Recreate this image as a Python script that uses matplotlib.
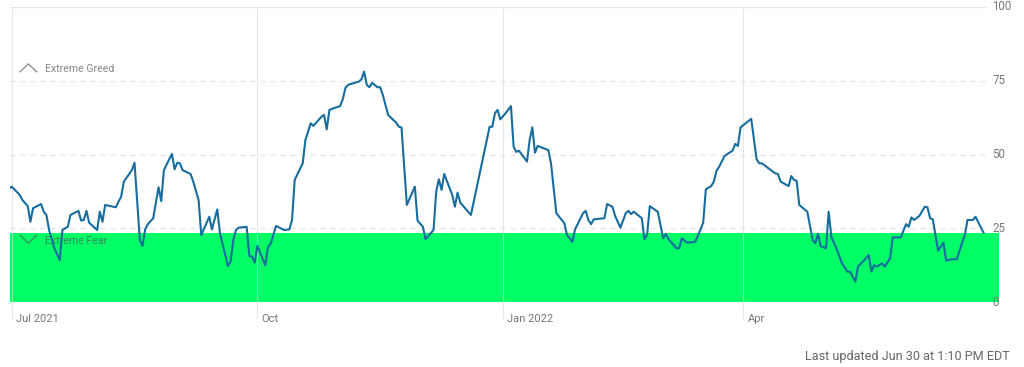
import matplotlib
matplotlib.use("Agg")
import matplotlib.pyplot as plt
import matplotlib.transforms as mtransforms
import pandas as pd

plt.rcParams['font.family'] = ['Roboto', 'DejaVu Sans']

# fear & greed index
dates = [
    "2021-06-30", "2021-07-01", "2021-07-02", "2021-07-04", "2021-07-05", "2021-07-07", "2021-07-08",
    "2021-07-09", "2021-07-12", "2021-07-13", "2021-07-14", "2021-07-15", "2021-07-17", "2021-07-19",
    "2021-07-20", "2021-07-22", "2021-07-23", "2021-07-26", "2021-07-27", "2021-07-28", "2021-07-29",
    "2021-07-30", "2021-08-02", "2021-08-03", "2021-08-04", "2021-08-05", "2021-08-09", "2021-08-10",
    "2021-08-11", "2021-08-12", "2021-08-15", "2021-08-16", "2021-08-18", "2021-08-19", "2021-08-20",
    "2021-08-21", "2021-08-23", "2021-08-25", "2021-08-26", "2021-08-27", "2021-08-30", "2021-08-31",
    "2021-09-01", "2021-09-02", "2021-09-03", "2021-09-06", "2021-09-07", "2021-09-09", "2021-09-10",
    "2021-09-13", "2021-09-14", "2021-09-16", "2021-09-17", "2021-09-20", "2021-09-21", "2021-09-22",
    "2021-09-23", "2021-09-24", "2021-09-27", "2021-09-28", "2021-09-29", "2021-09-30", "2021-10-01",
    "2021-10-04", "2021-10-05", "2021-10-06", "2021-10-08", "2021-10-11", "2021-10-13", "2021-10-14",
    "2021-10-15", "2021-10-18", "2021-10-19", "2021-10-21", "2021-10-22", "2021-10-25", "2021-10-26",
    "2021-10-27", "2021-10-28", "2021-10-29", "2021-11-01", "2021-11-02", "2021-11-03", "2021-11-04",
    "2021-11-05", "2021-11-08", "2021-11-09", "2021-11-10", "2021-11-11", "2021-11-12", "2021-11-13",
    "2021-11-15", "2021-11-16", "2021-11-17", "2021-11-18", "2021-11-19", "2021-11-22", "2021-11-23",
    "2021-11-24", "2021-11-26", "2021-11-29", "2021-11-30", "2021-12-02", "2021-12-03", "2021-12-06",
    "2021-12-07", "2021-12-08", "2021-12-09", "2021-12-10", "2021-12-13", "2021-12-14", "2021-12-15",
    "2021-12-16", "2021-12-20", "2021-12-22", "2021-12-27", "2021-12-28", "2021-12-29", "2021-12-30",
    "2021-12-31", "2022-01-02", "2022-01-04", "2022-01-05", "2022-01-06", "2022-01-07", "2022-01-10",
    "2022-01-11", "2022-01-12", "2022-01-13", "2022-01-14", "2022-01-18", "2022-01-19", "2022-01-21",
    "2022-01-24", "2022-01-25", "2022-01-27", "2022-01-28", "2022-01-31", "2022-02-01", "2022-02-02",
    "2022-02-03", "2022-02-04", "2022-02-08", "2022-02-09", "2022-02-11", "2022-02-12", "2022-02-14",
    "2022-02-16", "2022-02-17", "2022-02-18", "2022-02-19", "2022-02-22", "2022-02-23", "2022-02-24",
    "2022-02-25", "2022-02-28", "2022-03-02", "2022-03-03", "2022-03-04", "2022-03-07", "2022-03-08",
    "2022-03-09", "2022-03-11", "2022-03-14", "2022-03-16", "2022-03-17", "2022-03-18", "2022-03-20",
    "2022-03-21", "2022-03-22", "2022-03-23", "2022-03-25", "2022-03-28", "2022-03-29", "2022-03-30",
    "2022-03-31", "2022-04-04", "2022-04-06", "2022-04-07", "2022-04-08", "2022-04-13", "2022-04-14",
    "2022-04-15", "2022-04-18", "2022-04-19", "2022-04-20", "2022-04-21", "2022-04-22", "2022-04-25",
    "2022-04-27", "2022-04-28", "2022-04-29", "2022-04-30", "2022-05-02", "2022-05-03", "2022-05-04",
    "2022-05-06", "2022-05-08", "2022-05-10", "2022-05-11", "2022-05-13", "2022-05-14", "2022-05-17",
    "2022-05-18", "2022-05-19", "2022-05-20", "2022-05-21", "2022-05-22", "2022-05-23", "2022-05-24",
    "2022-05-26", "2022-05-27", "2022-05-30", "2022-06-01", "2022-06-02", "2022-06-03", "2022-06-04",
    "2022-06-06", "2022-06-08", "2022-06-09", "2022-06-10", "2022-06-11", "2022-06-13", "2022-06-15",
    "2022-06-16", "2022-06-18", "2022-06-20", "2022-06-22", "2022-06-23", "2022-06-24", "2022-06-26",
    "2022-06-27", "2022-06-29", "2022-06-30",
]
values = [
    38.5, 39.1, 38.2, 36.3, 34.6, 32.5, 27.2, 31.8, 33.2, 30.6, 29.5, 24.4, 18.2, 14.2, 24.4, 25.5,
    29.5, 30.9, 27.6, 27.8, 30.9, 26.9, 24.4, 30.6, 27.2, 32.9, 32.1, 34.0, 35.7, 40.8, 44.7, 47.2,
    21.0, 19.0, 24.6, 26.4, 28.4, 38.9, 34.2, 44.7, 50.2, 45.0, 47.2, 47.0, 44.7, 43.4, 40.8, 34.6,
    22.7, 28.9, 24.6, 31.4, 23.3, 12.2, 13.7, 21.0, 24.4, 25.2, 25.5, 15.6, 15.4, 13.3, 19.0, 12.5,
    18.7, 19.7, 25.8, 24.4, 24.6, 27.8, 41.4, 47.0, 54.9, 60.6, 59.7, 62.8, 63.4, 58.5, 65.1, 65.5,
    66.4, 68.7, 72.6, 73.6, 73.9, 74.7, 75.5, 78.1, 73.6, 72.8, 74.3, 72.8, 72.8, 70.2, 66.8, 63.4,
    60.8, 59.4, 59.2, 32.9, 39.1, 27.6, 25.5, 21.3, 24.4, 37.4, 41.6, 38.0, 43.4, 36.3, 32.3, 37.1,
    33.7, 29.5, 38.0, 59.4, 59.4, 64.0, 65.1, 61.9, 64.0, 66.4, 52.6, 50.9, 51.3, 47.6, 54.9, 59.2,
    50.6, 52.9, 51.5, 47.0, 30.1, 26.7, 22.7, 20.4, 24.6, 30.1, 30.9, 27.8, 26.4, 28.0, 28.4, 33.2,
    32.3, 29.2, 25.2, 30.1, 30.9, 29.8, 30.6, 28.4, 21.3, 22.7, 32.5, 30.6, 21.6, 23.1, 21.3, 18.2,
    18.2, 21.6, 20.1, 20.4, 24.6, 26.9, 38.2, 39.3, 40.8, 44.5, 45.9, 49.5, 51.3, 53.6, 52.9, 59.2,
    62.1, 48.4, 47.0, 47.0, 43.6, 43.4, 40.8, 39.3, 42.7, 41.4, 41.1, 32.9, 30.6, 21.0, 19.9, 23.1,
    19.0, 18.2, 30.6, 22.1, 17.9, 13.1, 10.3, 10.3, 6.9, 12.0, 14.8, 15.9, 10.3, 12.5, 12.0, 12.5,
    13.1, 12.0, 14.8, 21.9, 21.9, 26.4, 25.5, 28.7, 27.8, 29.2, 32.3, 32.1, 28.4, 28.0, 17.4, 20.1,
    14.0, 14.5, 14.5, 20.1, 22.7, 27.8, 27.8, 28.9, 25.3, 23.5,
]

month_ticks = ["2021-07-01", "2021-10-01", "2022-01-01", "2022-04-01"]
month_labels = ["Jul 2021", "Oct", "Jan 2022", "Apr"]
y_ticks = [0, 25, 50, 75, 100]
updated_text = "Last updated Jun 30 at 1:10 PM EDT"

dates = pd.to_datetime(dates)
month_ticks = pd.to_datetime(month_ticks)

line_color = "#176d9e"
green = "#00ff66"
grid_color = "#e4e4e4"
text_gray = "#777777"

fig = plt.figure(figsize=(10.24, 3.67), dpi=100)
ax = fig.add_axes([10 / 1024, 65 / 367, 989 / 1024, 295 / 367])
ax.set_ylim(0, 100)
x0 = pd.Timestamp("2021-07-01") - pd.Timedelta(days=0.64)
x1 = pd.Timestamp("2021-07-01") + pd.Timedelta(days=369.8)
ax.set_xlim(x0, x1)
for s in ax.spines.values():
    s.set_visible(False)
ax.set_xticks([])
ax.set_yticks([])

# current value band
ax.axhspan(0, values[-1], color=green, zorder=1, lw=0)

# horizontal grid
grid_end = pd.Timestamp("2022-07-01")
for v in y_ticks[1:]:
    ls = "-" if v == 100 else (0, (4, 4))
    ax.hlines(v, x0, grid_end, colors=grid_color, linestyles=ls, lw=0.9, zorder=0)

# month lines + labels
for d, lab in zip(month_ticks, month_labels):
    ax.vlines(d, -5.6, 100, colors="#d8d8d8", lw=0.8, alpha=0.6, zorder=2, clip_on=False)
    ax.annotate(lab, xy=(d, -5.8), xytext=(3, 0), textcoords="offset points",
                ha="left", va="center", fontsize=8, color=text_gray, annotation_clip=False)

# y labels on the right
ytr = mtransforms.blended_transform_factory(ax.transAxes, ax.transData)
for v in y_ticks:
    ax.text(0.993, v, str(v), transform=ytr, ha="left", va="center",
            fontsize=8.3, color=text_gray, clip_on=False)

ax.plot(dates, values, color=line_color, lw=1.5, zorder=3, solid_joinstyle="round")

# extreme greed / fear markers
mark_c = "#555555"
ax.plot([0.0101, 0.0186, 0.027], [78.0, 80.7, 78.0], transform=ytr, color=mark_c,
        alpha=0.7, lw=0.9, zorder=2)
ax.text(0.0354, 78.9, "Extreme Greed", transform=ytr, ha="left", va="center",
        fontsize=7.6, color=mark_c, alpha=0.7, zorder=2)
ax.plot([0.0101, 0.0186, 0.027], [22.7, 19.9, 22.7], transform=ytr, color=mark_c,
        alpha=0.7, lw=0.9, zorder=2)
ax.text(0.0354, 20.8, "Extreme Fear", transform=ytr, ha="left", va="center",
        fontsize=7.6, color=mark_c, alpha=0.7, zorder=2)

fig.text(1010 / 1024, 1 - 356.5 / 367, updated_text, ha="right", va="center",
         fontsize=9.1, color="#666666")

fig.savefig("out.png", dpi=100)
